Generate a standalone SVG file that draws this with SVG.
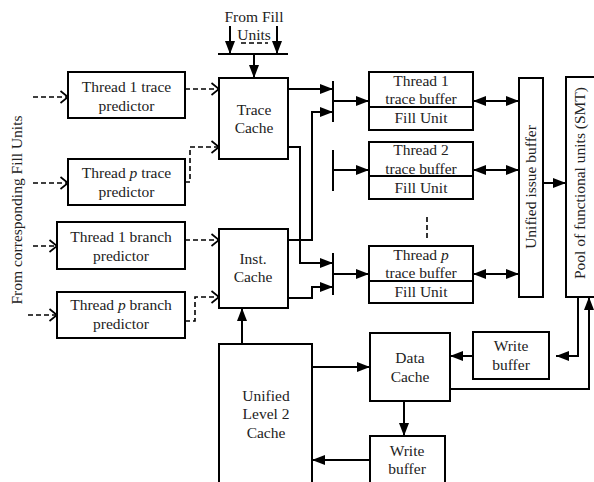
<svg xmlns="http://www.w3.org/2000/svg" width="594" height="482" viewBox="0 0 594 482">
<defs>
<marker id="a" markerWidth="14" markerHeight="11" refX="13" refY="5.5" orient="auto-start-reverse" markerUnits="userSpaceOnUse"><path d="M0,0.5 L13,5.5 L0,10.5 z" fill="#000"/></marker>
<marker id="v" markerWidth="11" markerHeight="14" refX="9" refY="7" orient="auto" markerUnits="userSpaceOnUse"><path d="M1.5,1 L9,7 L1.5,13" fill="none" stroke="#000" stroke-width="1.7"/></marker>
</defs>
<style>
.box{fill:#fff;stroke:#000;stroke-width:2}
.t{font-family:"Liberation Serif","Times New Roman",serif;font-size:15.5px;fill:#222;text-anchor:middle}
.ln{fill:none;stroke:#000;stroke-width:2}
.ds{fill:none;stroke:#000;stroke-width:1.6;stroke-dasharray:5,3}
.ar{marker-end:url(#a)}
.bi{marker-start:url(#a);marker-end:url(#a)}
.ch{marker-end:url(#v)}
</style>
<rect width="594" height="482" fill="#fff"/>

<g id="connectors">
  <path class="ln ar" d="M230,26 V54"/>
  <path class="ln ar" d="M277,26 V54"/>
  <path class="ds" d="M241,43 H268"/>
  <path class="ln" d="M218,54 H288"/>
  <path class="ln ar" d="M254,54 V78"/>
  <path class="ds ch" d="M33,97 H68"/>
  <path class="ds ch" d="M33,183 H68"/>
  <path class="ds ch" d="M33,246 H57"/>
  <path class="ds ch" d="M28,315 H57"/>
  <path class="ds ch" d="M185,89 H219"/>
  <path class="ds ch" d="M185,182 H190 V147 H219"/>
  <path class="ds ch" d="M185,240 H219"/>
  <path class="ds ch" d="M185,321 H195 V297 H219"/>
  <path class="ln ar" d="M288,89 H333"/>
  <path class="ln ar" d="M288,240 H312 V112 H333"/>
  <path class="ln ar" d="M288,147 H300 V263 H333"/>
  <path class="ln ar" d="M288,298 H312 V287 H333"/>
  <path class="ln" d="M333,81 V122"/>
  <path class="ln" d="M333,150 V191"/>
  <path class="ln" d="M333,253 V295"/>
  <path class="ln ar" d="M333,101 H369"/>
  <path class="ln ar" d="M333,170 H369"/>
  <path class="ln ar" d="M333,274 H369"/>
  <path class="ln bi" d="M473,101 H519"/>
  <path class="ln bi" d="M473,170 H519"/>
  <path class="ln bi" d="M473,274 H519"/>
  <path class="ds" d="M427,217 V240"/>
  <path class="ln ar" d="M543,183 H566"/>
  <path class="ln ar" d="M578,297 V356 H556"/>
  <path class="ln ar" d="M473,356 H450"/>
  <path class="ln ar" d="M450,389 H589 V297"/>
  <path class="ln ar" d="M312,367 H370"/>
  <path class="ln ar" d="M404,401 V436"/>
  <path class="ln ar" d="M370,460 H312"/>
  <path class="ln ar" d="M242,344 V308"/>
</g>

<g id="fill-units-label">
  <text class="t" x="254" y="22">From Fill</text>
  <text class="t" x="254" y="40">Units</text>
</g>
<g id="side-label">
  <text class="t" transform="translate(22,210) rotate(-90)">From corresponding Fill Units</text>
</g>

<g id="trace-cache">
  <rect class="box" x="219" y="78" width="69" height="81"/>
  <text class="t" x="254" y="115">Trace</text>
  <text class="t" x="254" y="133">Cache</text>
</g>
<g id="inst-cache">
  <rect class="box" x="219" y="229" width="69" height="79"/>
  <text class="t" x="253" y="264">Inst.</text>
  <text class="t" x="253" y="282">Cache</text>
</g>
<g id="t1-trace-pred">
  <rect class="box" x="68" y="72" width="117" height="46"/>
  <text class="t" x="126.5" y="92">Thread 1 trace</text>
  <text class="t" x="126.5" y="111">predictor</text>
</g>
<g id="tp-trace-pred">
  <rect class="box" x="68" y="159" width="117" height="46"/>
  <text class="t" x="126.5" y="178">Thread <tspan font-style="italic">p</tspan> trace</text>
  <text class="t" x="126.5" y="197">predictor</text>
</g>
<g id="t1-branch-pred">
  <rect class="box" x="57" y="222" width="128" height="47"/>
  <text class="t" x="121" y="242">Thread 1 branch</text>
  <text class="t" x="121" y="261">predictor</text>
</g>
<g id="tp-branch-pred">
  <rect class="box" x="57" y="292" width="128" height="46"/>
  <text class="t" x="121" y="310">Thread <tspan font-style="italic">p</tspan> branch</text>
  <text class="t" x="121" y="329">predictor</text>
</g>
<g id="t1-trace-buffer">
  <rect class="box" x="369" y="72" width="104" height="58"/>
  <path class="ln" d="M369,107 H473"/>
  <text class="t" x="421" y="86">Thread 1</text>
  <text class="t" x="421" y="104">trace buffer</text>
  <text class="t" x="421" y="123">Fill Unit</text>
</g>
<g id="t2-trace-buffer">
  <rect class="box" x="369" y="142" width="104" height="57"/>
  <path class="ln" d="M369,176 H473"/>
  <text class="t" x="421" y="155">Thread 2</text>
  <text class="t" x="421" y="174">trace buffer</text>
  <text class="t" x="421" y="193">Fill Unit</text>
</g>
<g id="tp-trace-buffer">
  <rect class="box" x="369" y="246" width="104" height="57"/>
  <path class="ln" d="M369,281 H473"/>
  <text class="t" x="421" y="260">Thread <tspan font-style="italic">p</tspan></text>
  <text class="t" x="421" y="278">trace buffer</text>
  <text class="t" x="421" y="297">Fill Unit</text>
</g>
<g id="issue-buffer">
  <rect class="box" x="519" y="78" width="24" height="219"/>
  <text class="t" transform="translate(536,187) rotate(-90)">Unified issue buffer</text>
</g>
<g id="pool">
  <rect class="box" x="566" y="77" width="40" height="220"/>
  <text class="t" transform="translate(585,183) rotate(-90)">Pool of functional units (SMT)</text>
</g>
<g id="l2-cache">
  <rect class="box" x="219" y="344" width="93" height="150"/>
  <text class="t" x="266" y="401">Unified</text>
  <text class="t" x="266" y="419">Level 2</text>
  <text class="t" x="266" y="438">Cache</text>
</g>
<g id="data-cache">
  <rect class="box" x="370" y="333" width="80" height="68"/>
  <text class="t" x="410" y="363">Data</text>
  <text class="t" x="410" y="382">Cache</text>
</g>
<g id="write-buffer-1">
  <rect class="box" x="473" y="332" width="76" height="47"/>
  <text class="t" x="511" y="351">Write</text>
  <text class="t" x="511" y="370">buffer</text>
</g>
<g id="write-buffer-2">
  <rect class="box" x="370" y="436" width="75" height="60"/>
  <text class="t" x="407" y="456">Write</text>
  <text class="t" x="407" y="474">buffer</text>
</g>
</svg>
